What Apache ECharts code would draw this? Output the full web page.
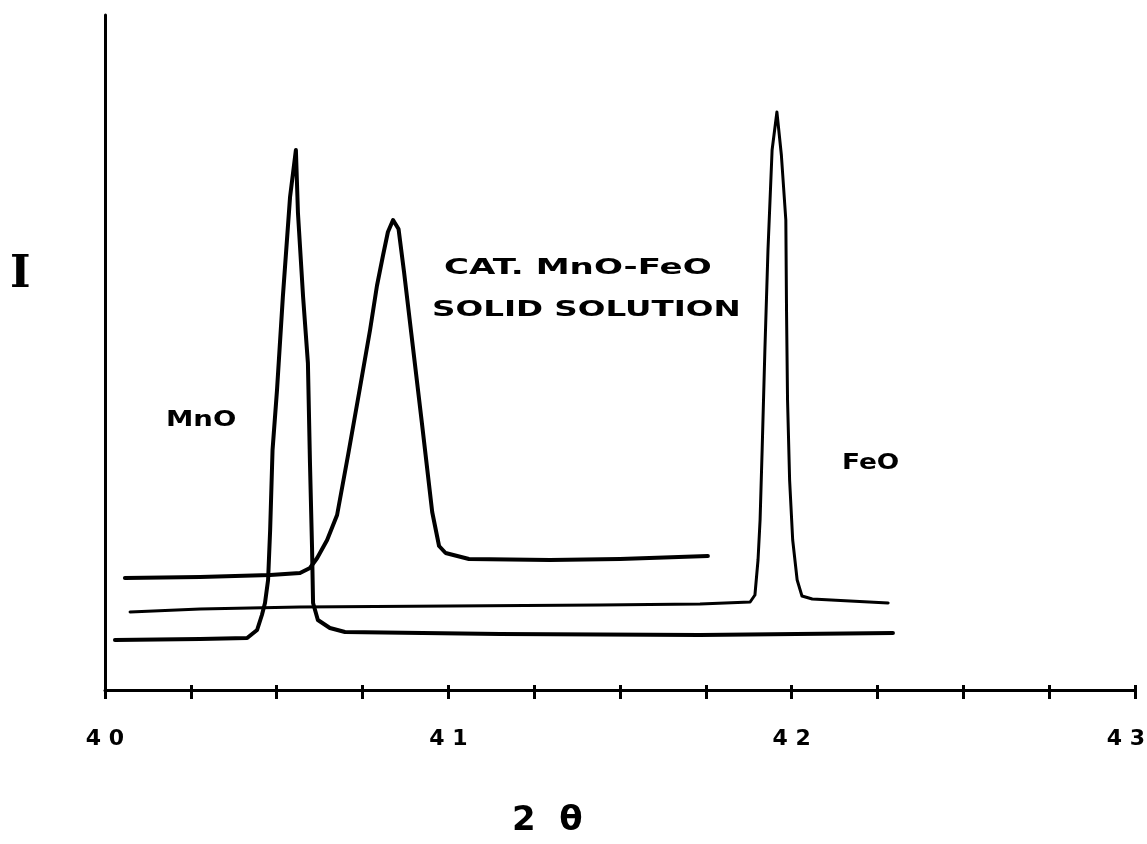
<!DOCTYPE html>
<html>
<head>
<meta charset="utf-8">
<script src="https://cdn.jsdelivr.net/npm/echarts@6/dist/echarts.min.js"></script>
<style>
  html, body { margin: 0; padding: 0; background: #fff; }
  #chart { width: 1147px; height: 844px; }
</style>
</head>
<body>
<div id="chart"></div>
<script>
// 2-theta (deg) vs intensity (arbitrary units)
const mnoData = [
  [40.029, 50], [40.277, 51], [40.414, 52], [40.443, 60], [40.457, 75],
  [40.466, 87], [40.475, 110], [40.481, 160], [40.488, 240], [40.501, 300],
  [40.518, 393], [40.539, 493], [40.556, 540], [40.562, 477], [40.577, 393],
  [40.591, 327], [40.597, 227], [40.603, 143], [40.606, 87], [40.620, 70],
  [40.655, 62], [40.699, 58], [41.151, 56], [41.733, 55], [42.295, 57]
]
const feoData = [
  [40.073, 78], [40.277, 81], [40.568, 83], [41.005, 84], [41.44, 85],
  [41.733, 86], [41.879, 88], [41.893, 95], [41.902, 130], [41.908, 170],
  [41.914, 240], [41.922, 340], [41.931, 440], [41.943, 540], [41.957, 578],
  [41.970, 535], [41.983, 470], [41.985, 380], [41.988, 290], [41.994, 210],
  [42.003, 150], [42.016, 110], [42.030, 94], [42.060, 91], [42.170, 89],
  [42.281, 87]
]
const catData = [
  [40.058, 112], [40.277, 113], [40.481, 115], [40.568, 117], [40.597, 122],
  [40.618, 132], [40.647, 150], [40.676, 175], [40.708, 235], [40.743, 303],
  [40.772, 360], [40.792, 404], [40.810, 435], [40.824, 458], [40.839, 470],
  [40.855, 461], [40.871, 418], [40.892, 357], [40.923, 267], [40.953, 178],
  [40.973, 144], [40.992, 137], [41.060, 131], [41.296, 130], [41.500, 131],
  [41.756, 134]
]
const xTicks = [40, 41, 42, 43]

const font = 'DejaVu Sans'
let chart = echarts.init(document.getElementById('chart'))

function lineSeries(name, data, width) {
  return {
    name: name,
    type: 'line',
    data: data,
    showSymbol: false,
    smooth: false,
    lineStyle: { color: '#000', width: width, join: 'round', cap: 'round' }
  }
}

function label(text, x, y, size, sx, family) {
  return {
    type: 'text',
    x: x, y: y,
    scaleX: sx || 1,
    style: {
      text: text,
      fill: '#000',
      font: 'bold ' + size + 'px "' + (family || font) + '"',
      textAlign: 'left',
      textVerticalAlign: 'middle'
    }
  }
}

function tickText(v) {
  if (xTicks.indexOf(v) < 0) return ''
  let s = String(v).split('').join(' ')
  // last label sits a bit left of its tick, as in the plot
  return v === xTicks[xTicks.length - 1] ? '{r|' + s + '}' : s
}

chart.setOption({
  backgroundColor: '#fff',
  animation: false,
  grid: { left: 105, right: 12, top: 15, bottom: 154, containLabel: false, outerBoundsMode: 'none' },
  xAxis: [{
    type: 'value',
    min: 40, max: 43, interval: 0.25,
    axisLine: { lineStyle: { color: '#000', width: 3 } },
    axisTick: { length: 9, lineStyle: { color: '#000', width: 3 } },
    axisLabel: {
      margin: 38,
      color: '#000', fontFamily: font, fontWeight: 'bold', fontSize: 22,
      formatter: tickText,
      rich: {
        r: { color: '#000', fontFamily: font, fontWeight: 'bold', fontSize: 22, padding: [0, 18, 0, 0] }
      }
    },
    splitLine: { show: false }
  }, {
    type: 'value',
    min: 40, max: 43, interval: 0.25,
    position: 'bottom',
    axisLine: { show: false },
    axisTick: { inside: true, length: 5, lineStyle: { color: '#000', width: 3 } },
    axisLabel: { show: false },
    splitLine: { show: false }
  }],
  yAxis: {
    type: 'value',
    min: 0, max: 675,
    axisLine: { show: true, lineStyle: { color: '#000', width: 3 } },
    axisTick: { show: false },
    axisLabel: { show: false },
    splitLine: { show: false }
  },
  series: [
    lineSeries('MnO', mnoData, 4),
    lineSeries('FeO', feoData, 3),
    lineSeries('CAT. MnO-FeO SOLID SOLUTION', catData, 4)
  ],
  graphic: [
    label('I', 10, 276, 44, 1, 'DejaVu Serif'),
    label('2  θ', 512, 821, 34, 1),
    label('CAT. MnO-FeO', 444, 268, 22, 1.55),
    label('SOLID SOLUTION', 432, 310, 22, 1.48),
    label('MnO', 166, 420, 22, 1.25),
    label('FeO', 842, 463, 22, 1.2)
  ]
})
</script>
</body>
</html>
